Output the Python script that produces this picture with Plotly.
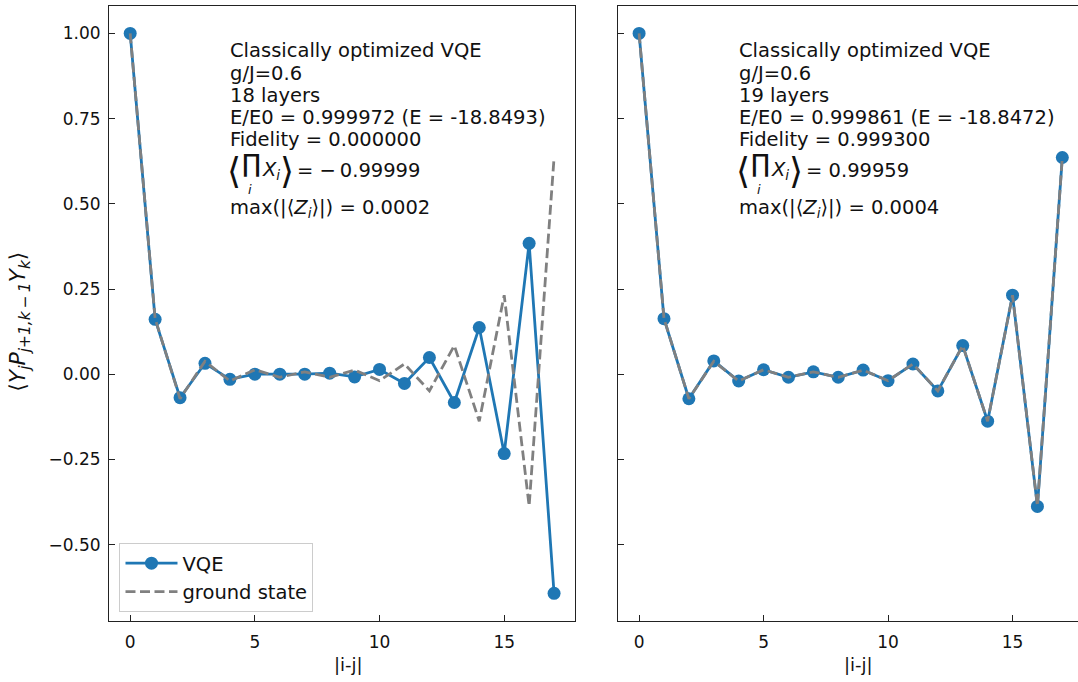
import plotly.graph_objects as go

# separation |i-j| between sites
sep = list(range(18))

# string correlator <Y_j P_{j+1,k-1} Y_k> for the two VQE runs
vqe_18_layers = [1.0, 0.161, -0.069, 0.032, -0.015, 0.0, 0.0, 0.0, 0.003, -0.008,
                 0.014, -0.027, 0.049, -0.083, 0.137, -0.233, 0.384, -0.643]
vqe_19_layers = [1.0, 0.163, -0.072, 0.039, -0.020, 0.013, -0.009, 0.007, -0.009, 0.012,
                 -0.019, 0.030, -0.049, 0.084, -0.138, 0.232, -0.388, 0.636]
ground_state = [1.0, 0.163, -0.072, 0.038, -0.020, 0.013, -0.009, 0.007, -0.009, 0.012,
                -0.019, 0.030, -0.049, 0.084, -0.138, 0.232, -0.387, 0.636]

y_ticks = [-0.50, -0.25, 0.00, 0.25, 0.50, 0.75, 1.00]
x_ticks = [0, 5, 10, 15]

panel_text = [
    ["Classically optimized VQE", "g/J=0.6", "18 layers",
     "E/E0 = 0.999972 (E = -18.8493)", "Fidelity = 0.000000"],
    ["Classically optimized VQE", "g/J=0.6", "19 layers",
     "E/E0 = 0.999861 (E = -18.8472)", "Fidelity = 0.999300"],
]
prod_values = ["= \u2212\u20090.99999", "= 0.99959"]
maxz_values = ["0.0002", "0.0004"]

BLUE = "#1f77b4"
GREY = "#808080"
FONT = "DejaVu Sans"
TXT = 19.5
W, H = 1078, 682
ML, MT, MB = 108.5, 5.5, 61
PW = W - ML
PH = H - MT - MB


def fx(px):
    return (px - ML) / PW


def fy(py):
    return (H - MB - py) / PH


fig = go.Figure()

for i, vqe in enumerate([vqe_18_layers, vqe_19_layers]):
    xa = "x" if i == 0 else "x2"
    ya = "y" if i == 0 else "y2"
    fig.add_trace(go.Scatter(
        x=sep, y=vqe, mode="lines+markers", name="VQE",
        line=dict(color=BLUE, width=2.8),
        marker=dict(color=BLUE, size=13),
        xaxis=xa, yaxis=ya, showlegend=(i == 0), legendrank=1,
    ))
    fig.add_trace(go.Scatter(
        x=sep, y=ground_state, mode="lines", name="ground state",
        line=dict(color=GREY, width=2.8, dash="10px,4.5px"),
        xaxis=xa, yaxis=ya, showlegend=(i == 0), legendrank=2,
    ))

axis_common = dict(
    showgrid=False, zeroline=False, showline=True, linecolor="#222222", linewidth=1.1,
    ticks="inside", ticklen=6, tickwidth=1.1, tickcolor="#222222",
    tickfont=dict(family=FONT, size=17, color="#111111"),
)

fig.update_layout(
    width=W, height=H,
    margin=dict(l=ML, r=0, t=MT, b=MB),
    plot_bgcolor="white", paper_bgcolor="white",
    font=dict(family=FONT, size=17, color="#111111"),
    xaxis=dict(domain=[0, fx(575)], range=[-0.85, 17.85], tickvals=x_ticks,
               mirror=True, ticklabelstandoff=6, **axis_common),
    xaxis2=dict(domain=[fx(617.7), 1.0], range=[-0.85, 17.63], tickvals=x_ticks,
                mirror=True, ticklabelstandoff=6, **axis_common),
    yaxis=dict(domain=[0, 1], range=[-0.7243, 1.0806], tickvals=y_ticks,
               tickformat=".2f", mirror=True, ticklabelstandoff=4, **axis_common),
    yaxis2=dict(domain=[0, 1], range=[-0.7243, 1.0806], tickvals=y_ticks,
                showticklabels=False, anchor="x2", **axis_common),
    legend=dict(x=fx(119), y=fy(612), xanchor="left", yanchor="bottom",
                bgcolor="rgba(255,255,255,0.8)", bordercolor="#cccccc", borderwidth=1,
                font=dict(family=FONT, size=TXT, color="#111111"),
                itemwidth=52, tracegroupgap=0),
)
fig.update_layout(xaxis2=dict(anchor="y2"))

ann = []


def text(px, py, s, size=TXT, xanchor="left", yanchor="middle", angle=0):
    ann.append(dict(x=fx(px), y=fy(py), xref="paper", yref="paper", text=s,
                    showarrow=False, xanchor=xanchor, yanchor=yanchor, textangle=angle,
                    borderpad=0,
                    font=dict(family=FONT, size=size, color="#111111")))


baselines = [58, 80.3, 102.5, 124.8, 147]
for p, x0 in enumerate([230, 739]):
    for line, b in zip(panel_text[p], baselines):
        text(x0 - 1, b - 7.5, line)
    # <prod_i X_i> = value
    text(x0 + 3.5, 170, "\u27e8", size=36, xanchor="center")
    text(x0 + 21, 163, "\u220f", size=25, xanchor="center")
    text(x0 + 20, 189, "<i>i</i>", size=13, xanchor="center", yanchor="middle")
    text(x0 + 31, 170, "<i>X<sub>i</sub></i>", size=TXT)
    text(x0 + 57, 170, "\u27e9", size=36, xanchor="center")
    text(x0 + 66, 170, prod_values[p])
    text(x0 - 1, 208, "max(|\u27e8<i>Z<sub>i</sub></i>\u27e9|) = " + maxz_values[p])
    # x-axis titles
    text([348, 858][p], 665, "|i-j|", size=18, xanchor="center")

text(19, 322, "\u27e8<i>Y<sub>j</sub>P<sub>j+1,k\u2009\u2212\u20091</sub>Y<sub>k</sub></i>\u27e9",
     size=22, xanchor="center", angle=-90)

fig.update_layout(annotations=ann)
fig.write_html("out.html")
